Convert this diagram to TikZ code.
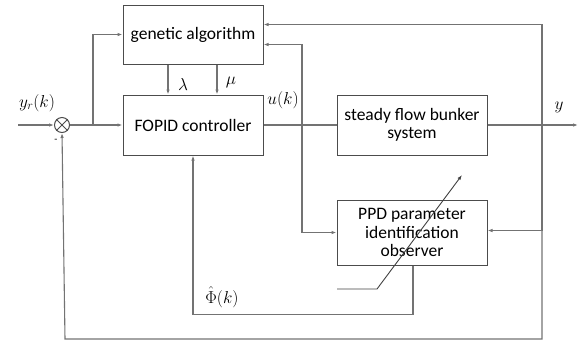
\documentclass[tikz,border=0pt]{standalone}
\usepackage{fontspec}
\setmainfont{Carlito}
\usetikzlibrary{arrows.meta}
\begin{document}
\begin{tikzpicture}[
        x=1pt, y=-1pt,
        blk/.style={draw=black!70, line width=1pt, minimum width=#1, inner sep=1pt, align=center,
          font=\fontsize{17.5}{18.5}\selectfont},
        arr/.style={-{Latex[length=5pt,width=3.5pt]}, draw=black!55, line width=1.1pt},
        lin/.style={draw=black!55, line width=1.1pt},
        lbl/.style={font=\fontsize{18}{19}\selectfont, inner sep=0pt},
      ]
        \useasboundingbox (0,0) rectangle (578,341);

        % Blocks
        \node[blk=140pt, minimum height=59pt] (ga)    at (193,34.5) {genetic algorithm};
        \node[blk=140pt, minimum height=60pt] (fopid) at (193,125)  {FOPID controller};
        \node[blk=150pt, minimum height=60pt] (plant) at (412,125)  {steady flow bunker\\system};
        \node[blk=150pt, minimum height=65pt] (ppd)   at (412,232.5) {PPD parameter\\identification\\observer};
        \node[draw=black!70, line width=1pt, circle, minimum size=15pt, inner sep=0pt] (sum) at (62,125) {};
        \draw[black!70, line width=1pt] (sum.north west) -- (sum.south east) (sum.north east) -- (sum.south west);

        % Branch points
        \coordinate (in)  at (18,125);
        \coordinate (rb)  at (93,125);
        \coordinate (ub)  at (302,125);
        \coordinate (yb)  at (542,125);
        \coordinate (out) at (578,125);
        \coordinate (fb)  at (65,339);

        % Forward path
        \draw[arr] (in) -- (sum);
        \draw[arr] (sum) -- (fopid);
        \draw[arr] (rb) |- (ga.west);
        \draw[arr] ([xshift=-25pt]ga.south) -- ([xshift=-25pt]fopid.north);
        \draw[arr] ([xshift=24pt]ga.south) -- ([xshift=24pt]fopid.north);
        \draw[lin] (fopid) -- (plant);
        \draw[arr] (plant) -- (out);

        % Control signal to GA and observer
        \draw[arr] (ub) |- ([yshift=-10pt]ga.east);
        \draw[arr] (ub) |- (ppd.west);

        % Output feedback
        \draw[arr] (yb) |- ([yshift=10pt]ga.east);
        \draw[arr] (yb) |- ([yshift=2pt]ppd.east);
        \draw[arr] (yb) |- (fb) -- (sum.south);

        % Estimated parameter
        \draw[arr] ([xshift=1pt]ppd.south) -- ++(0,49) -| (fopid.south);

        % Adjustable arrow
        \coordinate (d0) at (337,289);
        \coordinate (d1) at (377,289);
        \coordinate (d2) at (462,175);
        \draw[arr, black!75, line width=0.9pt] (d0) -- (d1) -- (d2);

        % Labels
        \node[lbl] (yr)   at (37,103)  {$y_r(k)$};
        \node[lbl, font=\normalsize] (neg) at (56,141) {-};
        \node[lbl] (lam)  at (183,84)  {$\lambda$};
        \node[lbl] (mu)   at (231,82)  {$\mu$};
        \node[lbl] (uk)   at (283,100) {$u(k)$};
        \node[lbl] (yout) at (559,107) {$y$};
        \node[lbl] (phi)  at (222,297) {$\hat{\Phi}(k)$};
      \end{tikzpicture}
\end{document}
